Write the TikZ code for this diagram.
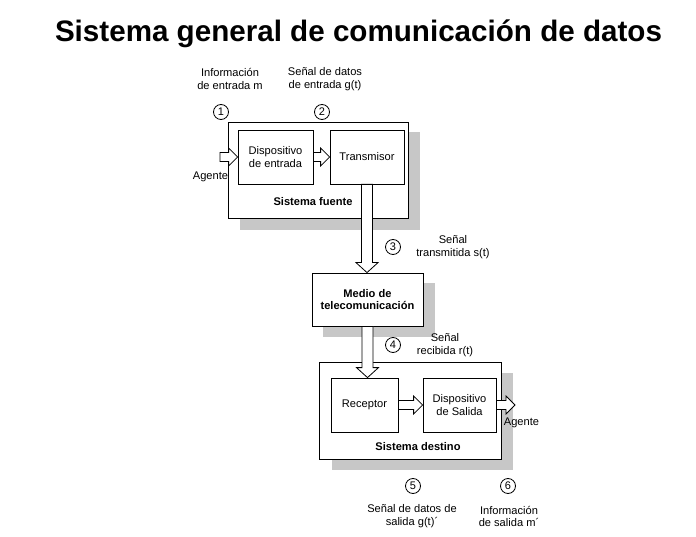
\documentclass[tikz,border=0pt]{standalone}
\usepackage{fontspec}
\setmainfont{Liberation Sans}
\usetikzlibrary{calc}
\tikzset{
  box/.style={draw, line width=0.8pt, fill=white, rectangle, inner sep=0pt},
  shadowbox/.style={fill=black!22, draw=none},
  lbl/.style={font=\fontsize{11.1}{12.8}\selectfont, align=center, inner sep=0pt},
  blbl/.style={font=\fontsize{11.1}{12.8}\selectfont\bfseries, align=center, inner sep=0pt},
  num/.style={draw, circle, line width=0.8pt, minimum size=15pt, inner sep=0pt, font=\fontsize{11}{12}\selectfont},
  hollow/.style={draw, fill=white, line width=0.8pt, line join=miter}
}
\newcommand\hollowright[2]{%
  \path[hollow] let \p1=#1, \p2=#2 in
    (\x1,\y1+4.5pt) -- (\x2-9pt,\y1+4.5pt) -- (\x2-9pt,\y1+9pt) -- (\x2,\y1)
    -- (\x2-9pt,\y1-9pt) -- (\x2-9pt,\y1-4.5pt) -- (\x1,\y1-4.5pt) -- cycle;}
\newcommand\hollowdown[2]{%
  \path[hollow] let \p1=#1, \p2=#2 in
    (\x1-5.5pt,\y1) -- (\x1-5.5pt,\y2+10pt) -- (\x1-11pt,\y2+10pt) -- (\x1,\y2)
    -- (\x1+11pt,\y2+10pt) -- (\x1+5.5pt,\y2+10pt) -- (\x1+5.5pt,\y1) -- cycle;}
\begin{document}
\begin{tikzpicture}[x=1pt,y=-1pt]
\useasboundingbox[fill=white] (0,0) rectangle (696,537);

% title
\node[font=\fontsize{29.6}{34}\selectfont\bfseries, inner sep=0pt] (title) at (358.5,34) {Sistema general de comunicación de datos};

% shadows
\fill[shadowbox] (240,132) rectangle (420,230);
\fill[shadowbox] (323,283) rectangle (435,337);
\fill[shadowbox] (332,373) rectangle (513,470);

% source system
\node[box, minimum width=180pt, minimum height=96pt] (fuente) at (318,170) {};
\node[box, minimum width=75pt, minimum height=54pt, lbl] (din) at (275.5,157) {Dispositivo\\de entrada};
\node[box, minimum width=74pt, minimum height=54pt, lbl] (tx) at (367,157) {Transmisor};
\node[blbl] (fuentelbl) at (313,202) {Sistema fuente};

% medium
\node[box, minimum width=111pt, minimum height=53pt, blbl] (medio) at (367.5,299.5) {Medio de\\telecomunicación};

% destination system
\node[box, minimum width=182pt, minimum height=97pt] (destino) at (410,410.5) {};
\node[box, minimum width=67pt, minimum height=54pt, lbl] (rx) at (364.5,405) {Receptor};
\node[box, minimum width=73pt, minimum height=54pt, lbl] (ds) at (459.5,405) {Dispositivo\\de Salida};
\node[blbl] (destinolbl) at (418,447) {Sistema destino};

% free ends
\coordinate (agin) at (220,157);
\coordinate (agout) at (515,405);

% hollow arrows
\hollowright{(agin)}{(din.west)}
\hollowright{(din.east)}{(tx.west)}
\hollowdown{(tx.south)}{(medio.north)}
\hollowdown{(medio.south)}{(medio.south |- rx.north)}
\hollowright{(rx.east)}{(ds.west)}
\hollowright{(ds.east)}{(agout)}

% labels
\node[lbl] (agente1) at (210.5,177) {Agente};
\node[lbl] (agente2) at (521.5,423) {Agente};

\node[lbl] (l1) at (230,79) {Información\\de entrada m};
\node[lbl] (l2) at (325,79) {Señal de datos\\de entrada g(t)};
\node[num] (n1) at (221,112) {1};
\node[num] (n2) at (322,112) {2};

\node[num] (n3) at (393,247) {3};
\node[lbl] (l3) at (453,247) {Señal\\transmitida s(t)};

\node[num] (n4) at (393,345) {4};
\node[lbl] (l4) at (445,345) {Señal\\recibida r(t)};

\node[num] (n5) at (413,486) {5};
\node[num] (n6) at (508,486) {6};
\node[lbl] (l5) at (412,516.5) {Señal de datos de\\salida g(t)´};
\node[lbl] (l6) at (509,516.5) {Información\\de salida m´};
\end{tikzpicture}
\end{document}
